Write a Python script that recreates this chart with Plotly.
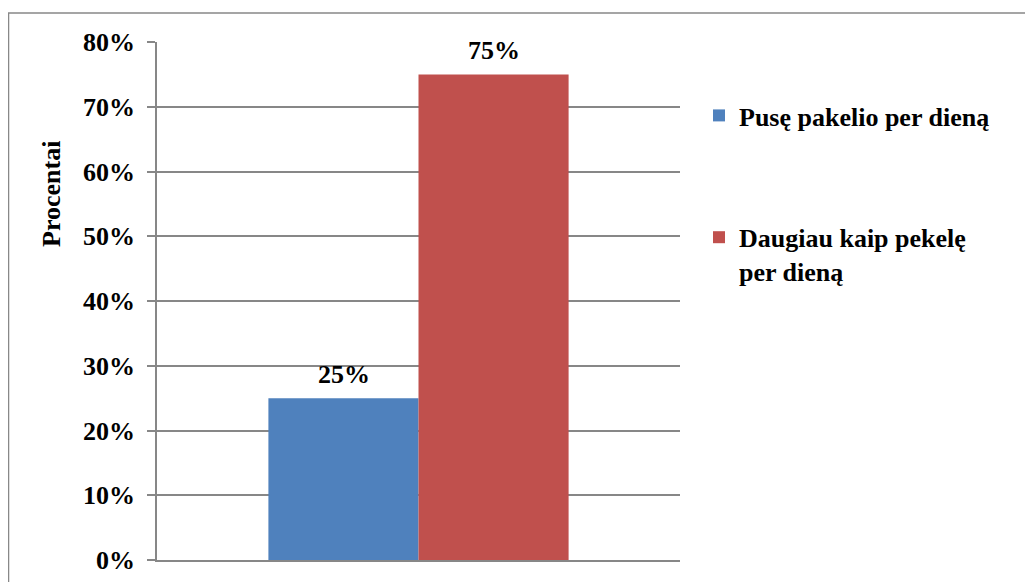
import plotly.graph_objects as go

categories = [" "]
series_names = ["Pusę pakelio per dieną", "Daugiau kaip pekelę<br>per dieną"]
series_values = [[0.25], [0.75]]
series_labels = ["25%", "75%"]
colors = ["#4F81BD", "#C0504D"]
tick_vals = [0, 0.1, 0.2, 0.3, 0.4, 0.5, 0.6, 0.7, 0.8]
tick_text = ["0%", "10%", "20%", "30%", "40%", "50%", "60%", "70%", "80%"]
y_title = "Procentai"

OFF = 8  # page body margin
W, H = 1033 - OFF, 582 - OFF
L, R, T, B = 157 - OFF, 680 - OFF, 42 - OFF, 560 - OFF
pw, ph = R - L, B - T

FONT = "Liberation Serif, Times New Roman, serif"
fig = go.Figure()
for i, (name, vals) in enumerate(zip(series_names, series_values)):
    fig.add_trace(go.Bar(
        x=categories, y=vals, name=name, marker_color=colors[i],
        marker_line_width=0, legendgroup=f"g{i}",
    ))

annotations = []
for i, vals in enumerate(series_values):
    annotations.append(dict(
        x=categories[0], y=vals[0], xref="x", yref="y",
        text=f"<b>{series_labels[i]}</b>", showarrow=False,
        xanchor="center", yanchor="bottom", yshift=7,
        xshift=(-75 if i == 0 else 75),
        font=dict(family=FONT, size=26, color="black"),
    ))
annotations.append(dict(
    x=(52 - OFF - L) / pw, y=(B - (194 - OFF)) / ph, xref="paper", yref="paper",
    text=f"<b>{y_title}</b>", textangle=-90, showarrow=False,
    xanchor="center", yanchor="middle",
    font=dict(family=FONT, size=26, color="black"),
))

fig.update_layout(
    width=W, height=H,
    margin=dict(l=L, r=W - R, t=T, b=H - B, autoexpand=False),
    paper_bgcolor="white", plot_bgcolor="white",
    barmode="group", bargap=0.426, bargroupgap=0,
    showlegend=True,
    legend=dict(
        x=(699 - OFF - L) / pw, y=(B - (92 - OFF)) / ph, xanchor="left", yanchor="top",
        font=dict(family=FONT, size=26, color="black", weight="bold"),
        tracegroupgap=85, traceorder="grouped", valign="top",
        bgcolor="rgba(0,0,0,0)",
    ),
    xaxis=dict(
        type="category",
        showticklabels=False, ticks="", showgrid=False,
        showline=True, linecolor="#878787", linewidth=1.5, zeroline=False,
    ),
    yaxis=dict(
        range=[0, 0.8], tickvals=tick_vals, ticktext=tick_text,
        ticks="outside", ticklen=8, tickcolor="#878787", tickwidth=1.5,
        showgrid=True, gridcolor="#878787", gridwidth=1.5,
        showline=True, linecolor="#878787", linewidth=1.5, zeroline=False,
        ticklabelstandoff=7,
        tickfont=dict(family=FONT, size=26, color="black", weight="bold"),
    ),
    annotations=annotations,
    shapes=[dict(
        type="rect", xref="paper", yref="paper",
        x0=(8 - OFF - L) / pw + 0.001, x1=(W + 20 - L) / pw,
        y0=(B - (H + 20)) / ph, y1=(B - (13 - OFF)) / ph,
        line=dict(color="#888888", width=1.5), fillcolor="rgba(0,0,0,0)",
        layer="below",
    )],
)

fig.write_html("out.html")
